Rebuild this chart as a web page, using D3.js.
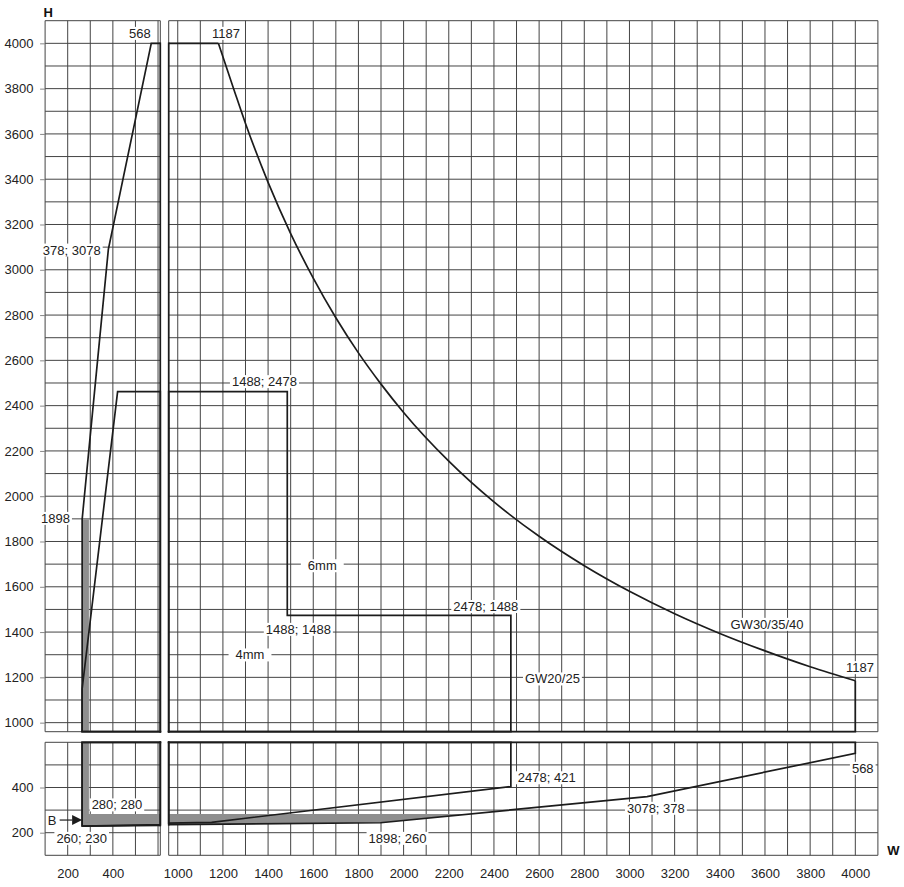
<!DOCTYPE html>
<html><head><meta charset="utf-8">
<script src="https://cdn.jsdelivr.net/npm/d3@7"></script>
<style>
body{margin:0;background:#fff}
svg{display:block;font-family:"Liberation Sans",Arial,Helvetica,sans-serif}
</style></head><body>
<svg id="c" width="904" height="887"></svg>
<script>
// ---------------- data (W, H in mm) ----------------
const xTicksLeft = [200, 400];
const xTicksRight = [1000,1200,1400,1600,1800,2000,2200,2400,2600,2800,3000,3200,3400,3600,3800,4000];
const yTicksUpper = [1000,1200,1400,1600,1800,2000,2200,2400,2600,2800,3000,3200,3400,3600,3800,4000];
const yTicksLower = [200, 400];

// GW30/35/40 envelope
const gw30Lower = [[264,229],[1898,244],[3078,360],[4000,551],[4000,1185]];
const gw30Upper = [[264,229],[264,1898],[380,3090],[570,4000],[1180,4000]];
const gw30Curve = [[1180,4000],[1250,3792],[1300,3646],[1400,3386],[1500,3160],[1600,2963],[1700,2788],
                   [1800,2633],[1900,2495],[2000,2370],[2200,2155],[2400,1975],[2600,1823],[2800,1693],
                   [3000,1580],[3200,1481],[3400,1394],[3600,1317],[3800,1247],[4000,1185]];
// GW20/25 envelope
const gw20 = [[264,229],[1150,246],[2475,404],[2475,1474],[1485,1474],[1485,2462],[421,2462],[264,1150]];
// grey band "B"
const bandB = [[264,229],[1898,244],[2295,283],[294,283],[294,1898],[264,1898]];

// annotations: panel, W, H, text, anchor, bg padding
const labels = [
  ["UL", 520, 4044, "568", "middle", 2],
  ["UR", 1214, 4044, "1187", "middle", 2],
  ["UL", 346, 3087, "378; 3078", "end", 2],
  ["UL", 210, 1902, "1898", "end", 2],
  ["UR", 1384, 2506, "1488; 2478", "middle", 2],
  ["UR", 1640, 1693, "6mm", "middle", 7],
  ["UR", 1320, 1299, "4mm", "middle", 7],
  ["UR", 1534, 1412, "1488; 1488", "middle", 2],
  ["UR", 2364, 1513, "2478; 1488", "middle", 2],
  ["UR", 2659, 1193, "GW20/25", "middle", 2],
  ["UR", 3609, 1434, "GW30/35/40", "middle", 2],
  ["UR", 4021, 1243, "1187", "middle", 2],
  ["LL", 418, 323, "280; 280", "middle", 2],
  ["LL", 262, 175, "260; 230", "middle", 2],
  ["LR", 1973, 175, "1898; 260", "middle", 2],
  ["LR", 2634, 443, "2478; 421", "middle", 2],
  ["LR", 3117, 308, "3078; 378", "middle", 2],
  ["LR", 4033, 485, "568", "middle", 2]
];
const arrowB = ["LL", 264, 256, "B"];

// ---------------- layout ----------------
const panels = [
  {id:"UL", xd:[100,610],  xr:[45.1,160.3],  yd:[960,4100], yr:[731.7,20.7], bx:"r", by:"b"},
  {id:"UR", xd:[960,4100], xr:[168.7,877.9], yd:[960,4100], yr:[731.7,20.7], bx:"l", by:"b"},
  {id:"LL", xd:[100,610],  xr:[45.1,160.3],  yd:[100,600],  yr:[855.3,742.3], bx:"r", by:"t"},
  {id:"LR", xd:[960,4100], xr:[168.7,877.9], yd:[100,600],  yr:[855.3,742.3], bx:"l", by:"t"}
];
const P = {};
panels.forEach(p => {
  p.x = d3.scaleLinear().domain(p.xd).range(p.xr);
  p.y = d3.scaleLinear().domain(p.yd).range(p.yr);
  P[p.id] = p;
});

const svg = d3.select("#c");
const defs = svg.append("defs");
const INK = "#1c1c1c", GRID = "#444";

function gridVals(d){
  const v = [d[0]];
  d3.range(Math.ceil(d[0]/100)*100, d[1]+0.1, 100).forEach(t => { if (t!==d[0]) v.push(t); });
  if (v[v.length-1] !== d[1]) v.push(d[1]);
  return v;
}
function cuts(poly, axis, c){
  const o = 1-axis, vals = [];
  for (let i=0;i<poly.length;i++){
    const p = poly[i], q = poly[(i+1)%poly.length];
    const a = p[axis]-c, b = q[axis]-c;
    if ((a<0 && b>=0) || (a>=0 && b<0)){
      const t = a/(a-b);
      vals.push(p[o] + t*(q[o]-p[o]));
    }
  }
  vals.sort((m,n)=>m-n);
  const out = [];
  for (let i=0;i+1<vals.length;i+=2) out.push([vals[i], vals[i+1]]);
  return out;
}
const gw30Poly = [...gw30Lower, ...gw30Upper.slice().reverse().slice(0,-1)];

// grid
const gridG = svg.append("g");
panels.forEach(p => {
  gridG.append("g").selectAll("line").data(gridVals(p.xd)).join("line")
    .attr("x1", d=>p.x(d)).attr("x2", d=>p.x(d))
    .attr("y1", p.yr[0]).attr("y2", p.yr[1])
    .attr("stroke", GRID).attr("stroke-width", 1);
  gridG.append("g").selectAll("line").data(gridVals(p.yd)).join("line")
    .attr("y1", d=>p.y(d)).attr("y2", d=>p.y(d))
    .attr("x1", p.xr[0]).attr("x2", p.xr[1])
    .attr("stroke", GRID).attr("stroke-width", 1);
});

// series per panel (clipped)
panels.forEach(p => {
  defs.append("clipPath").attr("id","clip"+p.id).append("rect")
    .attr("x", p.xr[0]).attr("y", p.yr[1])
    .attr("width", p.xr[1]-p.xr[0]).attr("height", p.yr[0]-p.yr[1]);
  const g = svg.append("g").attr("clip-path", `url(#clip${p.id})`);
  const line = d3.line().x(d=>p.x(d[0])).y(d=>p.y(d[1]));
  g.append("path").attr("d", line(bandB)+"Z").attr("fill", "#8e8e8e").attr("stroke","none");
  const st = sel => sel.attr("fill","none").attr("stroke",INK).attr("stroke-width",1.7).attr("stroke-linejoin","miter");
  g.append("path").attr("d", line(gw30Lower)).call(st);
  g.append("path").attr("d", line(gw30Upper)).call(st);
  g.append("path").attr("d", line.curve(d3.curveMonotoneX)(gw30Curve)).call(st);
  line.curve(d3.curveLinear);
  g.append("path").attr("d", line(gw20)+"Z").call(st);
});

// break edges (envelope closed along the axis breaks)
const edgeG = svg.append("g");
panels.forEach(p => {
  const cx = p.bx === "r" ? p.xd[1] : p.xd[0];
  const cy = p.by === "b" ? p.yd[0] : p.yd[1];
  [gw30Poly, gw20].forEach(poly => {
    cuts(poly, 0, cx).forEach(iv => {
      const a = Math.max(iv[0], p.yd[0]), b = Math.min(iv[1], p.yd[1]);
      if (b > a) edgeG.append("line").attr("x1", p.x(cx)).attr("x2", p.x(cx))
        .attr("y1", p.y(a)).attr("y2", p.y(b))
        .attr("stroke", INK).attr("stroke-width", 1.7).attr("stroke-linecap","square");
    });
    cuts(poly, 1, cy).forEach(iv => {
      const a = Math.max(iv[0], p.xd[0]), b = Math.min(iv[1], p.xd[1]);
      if (b > a) edgeG.append("line").attr("y1", p.y(cy)).attr("y2", p.y(cy))
        .attr("x1", p.x(a)).attr("x2", p.x(b))
        .attr("stroke", INK).attr("stroke-width", 1.7).attr("stroke-linecap","square");
    });
  });
});

// annotations with white background
const labG = svg.append("g").attr("font-size", 13).attr("fill", "#222");
labels.forEach(([pid, w, h, t, anchor, pad]) => {
  const p = P[pid];
  const g = labG.append("g");
  const tx = g.append("text").attr("x", p.x(w)).attr("y", p.y(h))
    .attr("text-anchor", anchor).attr("dominant-baseline", "central").text(t);
  const bb = tx.node().getBBox();
  g.insert("rect", "text").attr("x", bb.x - pad).attr("y", p.y(h) - 6.5)
    .attr("width", bb.width + 2*pad).attr("height", 13).attr("fill", "#fff");
});

// arrow B
{
  const [pid, w, h, t] = arrowB, p = P[pid];
  const tx = p.x(w), ty = p.y(h);
  const g = svg.append("g");
  g.append("line").attr("x1", tx-22.5).attr("x2", tx-10).attr("y1", ty).attr("y2", ty)
    .attr("stroke", INK).attr("stroke-width", 1.2);
  g.append("path").attr("d", `M${tx-10},${ty-5}L${tx},${ty}L${tx-10},${ty+5}Z`).attr("fill", INK);
  g.append("text").attr("x", tx-30).attr("y", ty).attr("text-anchor","middle")
    .attr("dominant-baseline","central").attr("font-size",13).attr("fill","#222").text(t);
}

// axes
function styleAxis(g){
  g.select(".domain").remove();
  g.selectAll("text").attr("font-size", 13).attr("fill", "#222")
    .attr("font-family", '"Liberation Sans",Arial,sans-serif');
  g.selectAll(".tick line").attr("stroke", "#888");
}
const fmt = d3.format("d");
svg.append("g").attr("transform", `translate(${P.UL.xr[0]},0)`)
  .call(d3.axisLeft(P.UL.y).tickValues(yTicksUpper).tickSize(5).tickPadding(6.6).tickFormat(fmt)).call(styleAxis);
svg.append("g").attr("transform", `translate(${P.LL.xr[0]},0)`)
  .call(d3.axisLeft(P.LL.y).tickValues(yTicksLower).tickSize(5).tickPadding(6.6).tickFormat(fmt)).call(styleAxis);
svg.append("g").attr("transform", `translate(0,${P.LL.yr[0]})`)
  .call(d3.axisBottom(P.LL.x).tickValues(xTicksLeft).tickSize(0).tickPadding(13.4).tickFormat(fmt)).call(styleAxis);
svg.append("g").attr("transform", `translate(0,${P.LR.yr[0]})`)
  .call(d3.axisBottom(P.LR.x).tickValues(xTicksRight).tickSize(0).tickPadding(13.4).tickFormat(fmt)).call(styleAxis);

// axis titles
svg.append("text").attr("x", 48.3).attr("y", 12.7).attr("text-anchor","middle").attr("dominant-baseline","central")
  .attr("font-size", 13).attr("font-weight","bold").attr("fill","#111").text("H");
svg.append("text").attr("x", 893.3).attr("y", 850).attr("text-anchor","middle").attr("dominant-baseline","central")
  .attr("font-size", 13).attr("font-weight","bold").attr("fill","#111").text("W");
</script>
</body></html>
